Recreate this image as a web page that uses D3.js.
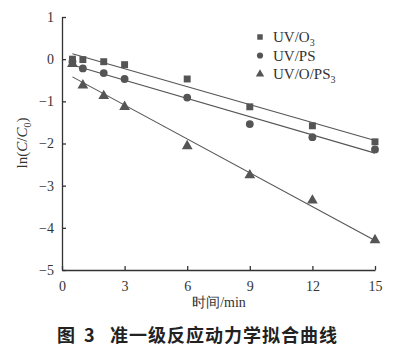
<!DOCTYPE html>
<html>
<head>
<meta charset="utf-8">
<script src="https://cdn.jsdelivr.net/npm/d3@7"></script>
<style>
  html, body { margin: 0; padding: 0; background: #fff; }
  svg { display: block; }
</style>
</head>
<body>
<svg id="chart" width="419" height="350"></svg>
<script>
// Reaction time (min)
const times = [0.5, 1, 2, 3, 6, 9, 12, 15];
// ln(C/C0) measured for each process
const uvO3 = [0.0, -0.01, -0.06, -0.13, -0.47, -1.13, -1.58, -1.96];
const uvPS = [-0.06, -0.22, -0.33, -0.47, -0.91, -1.54, -1.85, -2.14];
const uvOPS3 = [-0.11, -0.62, -0.87, -1.13, -2.06, -2.75, -3.35, -4.29];
// Pseudo-first-order fits: ln(C/C0) = intercept + slope * t
const fitSlopes = [-0.142, -0.144, -0.2676];
const fitIntercepts = [0.2, -0.068, -0.286];
const fitRange = [0.5, 15];
const seriesNames = ["UV/O", "UV/PS", "UV/O/PS"];
const seriesSubs = ["3", "", "3"];
const xTicks = [0, 3, 6, 9, 12, 15];
const yTicks = [1, 0, -1, -2, -3, -4, -5];

const svg = d3.select("#chart");
const x = d3.scaleLinear().domain([0, 15]).range([62, 375]);
const y = d3.scaleLinear().domain([-5, 1]).range([270, 17]);
const ink = "#333";
const markColor = "#555";
const serif = "'Liberation Serif', 'Times New Roman', serif";

// Axes (ticks point inward)
const xAxis = d3.axisBottom(x).tickValues(xTicks).tickSizeInner(-4).tickSizeOuter(0).tickPadding(8);
const yAxis = d3.axisLeft(y).tickValues(yTicks).tickSizeInner(-4).tickSizeOuter(0).tickPadding(8)
  .tickFormat(d => d < 0 ? "\u2212" + Math.abs(d) : d);

const gx = svg.append("g").attr("transform", `translate(0,${y(-5)})`).call(xAxis);
const gy = svg.append("g").attr("transform", `translate(${x(0)},0)`).call(yAxis);
[gx, gy].forEach(g => {
  g.selectAll("path, line").attr("stroke", ink).attr("stroke-width", 1.3);
  g.selectAll("text").attr("fill", ink).style("font-family", serif).style("font-size", "14px");
});
gx.selectAll("text").attr("dy", "0.9em");

// Fitted lines
const seriesData = [uvO3, uvPS, uvOPS3];
fitSlopes.forEach((s, i) => {
  const b = fitIntercepts[i];
  svg.append("line")
    .attr("x1", x(fitRange[0])).attr("y1", y(b + s * fitRange[0]))
    .attr("x2", x(fitRange[1])).attr("y2", y(b + s * fitRange[1]))
    .attr("stroke", markColor).attr("stroke-width", 1.1);
});

// Markers
const shapes = [d3.symbolSquare, d3.symbolCircle, d3.symbolTriangle];
const sizes = [48, 48, 50];
seriesData.forEach((vals, i) => {
  svg.append("g").selectAll("path")
    .data(vals.map((v, j) => [times[j], v]))
    .join("path")
    .attr("transform", d => `translate(${x(d[0])},${y(d[1])})`)
    .attr("d", d3.symbol(shapes[i], sizes[i]))
    .attr("fill", markColor);
});

// Legend
const legend = svg.append("g");
seriesNames.forEach((name, i) => {
  const ly = 37 + i * 18.5;
  legend.append("path")
    .attr("transform", `translate(260,${ly})`)
    .attr("d", d3.symbol(shapes[i], 30))
    .attr("fill", markColor);
  const t = legend.append("text")
    .attr("x", 273).attr("y", ly + 5)
    .attr("fill", ink)
    .style("font-family", serif).style("font-size", "15px")
    .text(name);
  if (seriesSubs[i]) {
    t.append("tspan").attr("dy", 4).style("font-size", "10px").text(seriesSubs[i]);
  }
});

// Axis titles
svg.append("text")
  .attr("x", 219).attr("y", 307)
  .attr("text-anchor", "middle").attr("fill", ink)
  .style("font-family", serif).style("font-size", "14px")
  .text("时间/min");

const yl = svg.append("text")
  .attr("transform", "translate(27,143) rotate(-90)")
  .attr("text-anchor", "middle").attr("fill", ink)
  .style("font-family", serif).style("font-size", "15px");
yl.append("tspan").text("ln(");
yl.append("tspan").style("font-style", "italic").text("C");
yl.append("tspan").text("/");
yl.append("tspan").style("font-style", "italic").text("C");
yl.append("tspan").attr("dy", 4).style("font-size", "10px").text("0");
yl.append("tspan").attr("dy", -4).text(")");

// Figure caption
const cap = svg.append("text")
  .attr("y", 342).attr("fill", "#222")
  .style("font-family", "'Noto Sans CJK SC', sans-serif")
  .style("font-size", "18px").style("font-weight", "bold");
cap.append("tspan").attr("x", 57).text("图");
cap.append("tspan").attr("x", 84).text("3");
cap.append("tspan").attr("x", 110).style("letter-spacing", "1px").text("准一级反应动力学拟合曲线");
</script>
</body>
</html>
